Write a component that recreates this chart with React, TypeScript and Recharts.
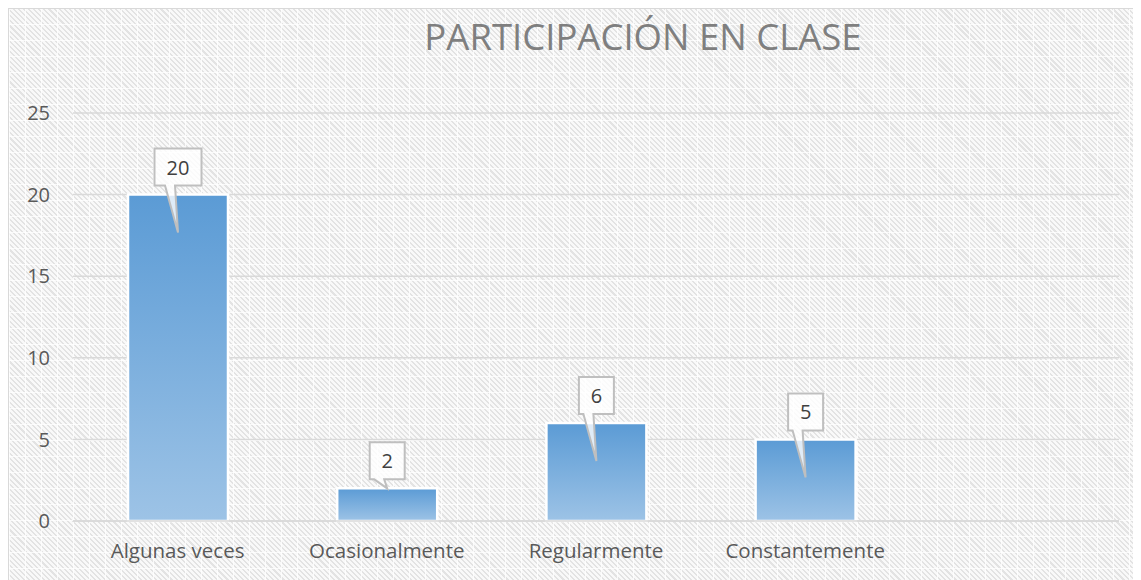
import React from "react";
import { BarChart, Bar, XAxis, YAxis, CartesianGrid, LabelList } from "recharts";

const categories = ["Algunas veces", "Ocasionalmente", "Regularmente", "Constantemente", ""];
const values: (number | null)[] = [20, 2, 6, 5, null];
const yTicks = [0, 5, 10, 15, 20, 25];
const title = "PARTICIPACIÓN EN CLASE";

const data = categories.map((name, i) => ({ name, value: values[i] }));

const FONT = "'Open Sans', 'Noto Sans', sans-serif";

const Callout = (props: any) => {
  const { x, y, width, height, value } = props;
  if (value == null) return null;
  const cx = x + width / 2;
  const w = String(value).length > 1 ? 47 : 35;
  const h = 37;
  const bottom = y - 9;
  const top = bottom - h;
  const tipY = height > 60 ? y + 38 : y;
  const d = `M${cx - w / 2},${top} H${cx + w / 2} V${bottom} H${cx - 3} L${cx},${tipY} L${cx - 13},${bottom} H${cx - w / 2} Z`;
  return (
    <g>
      <path d={d} fill="#ffffff" fillOpacity={0.8} stroke="#bfbfbf" strokeWidth={2} />
      <text x={cx} y={(top + bottom) / 2} textAnchor="middle" dominantBaseline="central" fontSize={20} fill="#404040" fontFamily={FONT}>
        {value}
      </text>
    </g>
  );
};

const bg: React.CSSProperties = {
  position: "relative",
  width: 1133,
  height: 572,
  borderLeft: "1px solid #d9d9d9",
  borderTop: "1px solid #d9d9d9",
  backgroundColor: "#f6f6f6",
  backgroundImage:
    "linear-gradient(90deg, rgba(255,255,255,0.8) 1.5px, transparent 1.5px)," +
    "linear-gradient(0deg, rgba(255,255,255,0.8) 1.5px, transparent 1.5px)," +
    "repeating-linear-gradient(45deg, #e3e3e3 0px, #e3e3e3 1.5px, #f9f9f9 1.5px, #f9f9f9 3.6px)",
  backgroundSize: "16px 16px, 16px 16px, auto",
};

export default function App() {
  return (
    <div style={bg}>
      <div
        style={{
          position: "absolute",
          left: 334,
          width: 600,
          top: 6,
          textAlign: "center",
          fontFamily: FONT,
          fontSize: 36.5,
          color: "#7f7f7f",
          lineHeight: 1.2,
        }}
      >
        {title}
      </div>
      <BarChart width={1133} height={572} data={data} margin={{ top: 104, right: 23, bottom: 0, left: 0 }} barSize={100}>
        <defs>
          <linearGradient id="barGrad" x1="0" y1="0" x2="0" y2="1">
            <stop offset="0%" stopColor="#5B9BD5" />
            <stop offset="100%" stopColor="#9DC3E6" />
          </linearGradient>
        </defs>
        <CartesianGrid vertical={false} stroke="#d9d9d9" strokeWidth={1.5} />
        <XAxis
          dataKey="name"
          height={60}
          axisLine={{ stroke: "#d9d9d9", strokeWidth: 1.5 }}
          tickLine={false}
          tickSize={0}
          tickMargin={22}
          interval={0}
          tick={{ fontSize: 20.5, fill: "#595959", fontFamily: FONT }}
        />
        <YAxis
          width={64}
          domain={[0, 25]}
          ticks={yTicks}
          axisLine={false}
          tickLine={false}
          tickSize={0}
          tickMargin={23}
          tick={{ fontSize: 20, fill: "#595959", fontFamily: FONT }}
        />
        <Bar dataKey="value" fill="url(#barGrad)" stroke="#ffffff" strokeWidth={2.5} isAnimationActive={false}>
          <LabelList dataKey="value" content={Callout} />
        </Bar>
      </BarChart>
    </div>
  );
}
